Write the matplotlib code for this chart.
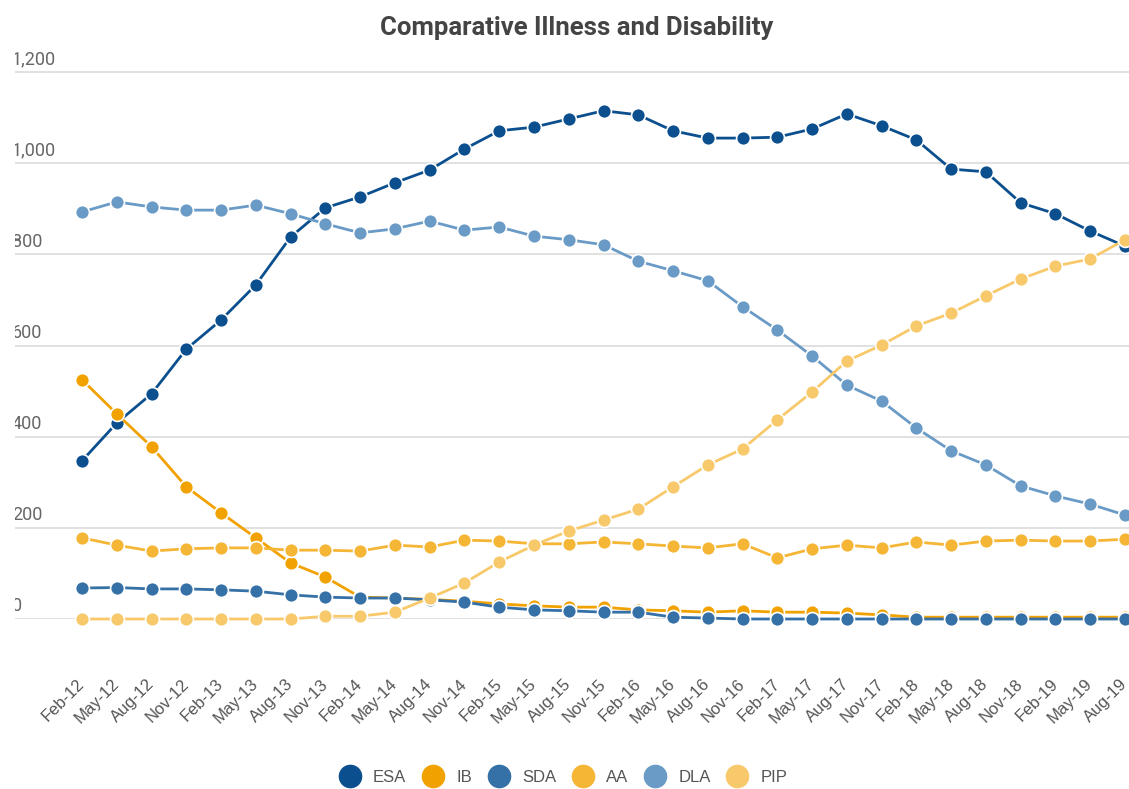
import matplotlib
matplotlib.use("Agg")
import matplotlib.pyplot as plt
from matplotlib.lines import Line2D

quarters = ["Feb-12", "May-12", "Aug-12", "Nov-12",
            "Feb-13", "May-13", "Aug-13", "Nov-13",
            "Feb-14", "May-14", "Aug-14", "Nov-14",
            "Feb-15", "May-15", "Aug-15", "Nov-15",
            "Feb-16", "May-16", "Aug-16", "Nov-16",
            "Feb-17", "May-17", "Aug-17", "Nov-17",
            "Feb-18", "May-18", "Aug-18", "Nov-18",
            "Feb-19", "May-19", "Aug-19"]

# caseloads, thousands
esa = [347, 430, 494, 592, 656, 733, 838, 902, 926, 957, 985, 1031,
       1071, 1079, 1097, 1115, 1106, 1071, 1055, 1055, 1057, 1075,
       1108, 1082, 1051, 987, 981, 913, 889, 851, 818]
ib = [525, 450, 378, 290, 233, 178, 123, 92, 48, 46, 43, 39,
      33, 29, 26, 26, 20, 18, 15, 18, 15, 15, 13, 9,
      4, 4, 4, 4, 4, 4, 4]
sda = [68, 69, 66, 66, 64, 61, 53, 48, 46, 46, 42, 37,
       26, 20, 18, 15, 15, 4, 2, 0, 0, 0, 0, 0,
       0, 0, 0, 0, 0, 0, 0]
aa = [178, 162, 149, 154, 156, 156, 151, 151, 149, 162, 158, 173,
      171, 165, 165, 169, 165, 160, 156, 165, 134, 154, 162, 156,
      169, 162, 171, 173, 171, 171, 175]
dla = [893, 915, 904, 897, 897, 908, 889, 867, 847, 856, 873, 853,
       860, 840, 832, 821, 785, 764, 742, 685, 634, 577, 513, 478,
       419, 369, 338, 292, 270, 252, 228]
pip = [0, 0, 0, 0, 0, 0, 0, 6, 6, 15, 46, 79,
       125, 162, 193, 217, 241, 290, 338, 373, 437, 498, 566, 601,
       643, 671, 709, 746, 774, 790, 832]

y_ticks = [0, 200, 400, 600, 800, 1000, 1200]
y_tick_labels = ["0", "200", "400", "600", "800", "1,000", "1,200"]

series = [("ESA", esa, "#0b4f8e"),
          ("IB", ib, "#f2a200"),
          ("SDA", sda, "#3570a6"),
          ("AA", aa, "#f5b535"),
          ("DLA", dla, "#6a9bc6"),
          ("PIP", pip, "#f8c96b")]

fig = plt.figure(figsize=(11.29, 7.89), dpi=100)
W, H = 1129, 789
# plot area in pixels: left 15, right edge, y=0 at 619, extra room above 1,200
left, right, y0_px, top_px = 15, 1129, 619, 40
ax = fig.add_axes([left / W, 1 - y0_px / H, (right - left) / W, (y0_px - top_px) / H])

px_per_unit = (619 - 72) / 1200
x_step = (1125 - 82) / 30
ax.set_xlim((left - 82) / x_step, (right - 82) / x_step)
ax.set_ylim(0, (y0_px - top_px) / px_per_unit)

for yt, lab in zip(y_ticks, y_tick_labels):
    ax.axhline(yt, color="#dcdcdc", lw=1.2, zorder=1)
    # labels sit on top of each gridline and get cut off by the plot edge
    ax.text((left - 3 - 82) / x_step, yt + 8, lab,
            ha="left", va="bottom", fontsize=13, color="#666666",
            family="Roboto", clip_on=True)

xs = list(range(len(quarters)))
for name, vals, col in series:
    ax.plot(xs, vals, color=col, lw=2.0, marker="o", markersize=10,
            markeredgecolor="white", markeredgewidth=1.2, zorder=3,
            clip_on=False, label=name)

ax.set_xticks(xs)
ax.set_xticklabels(quarters, rotation=45, ha="right", va="center",
                   rotation_mode="anchor", fontsize=12, color="#555555",
                   family="Liberation Sans")
ax.tick_params(axis="x", length=0, pad=45)
ax.set_yticks([])
for s in ax.spines.values():
    s.set_visible(False)

fig.text(577 / W, 1 - 28 / H, "Comparative Illness and Disability",
         ha="center", va="center", fontsize=18.5, fontweight="bold",
         color="#444444", family="Roboto")

handles = [Line2D([], [], ls="none", marker="o", markersize=16,
                  color=col, markeredgecolor=col) for _, _, col in series]
fig.legend(handles, [n for n, _, _ in series], loc="center",
           bbox_to_anchor=(0.5, 1 - 777 / H), ncol=6, frameon=False,
           handlelength=1.0, handletextpad=0.9, columnspacing=1.1,
           prop={"family": "Liberation Sans", "size": 12},
           labelcolor="#555555")

fig.savefig("out.png", dpi=100)
